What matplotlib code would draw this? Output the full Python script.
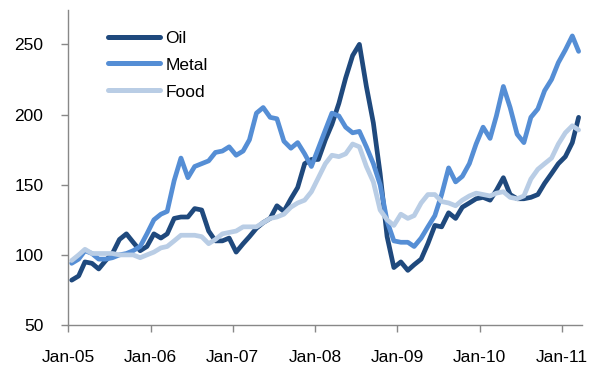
"""
Commodity price indices (Oil, Metal, Food), monthly, Jan-05 to Mar-11.
Saves out.png (599x369).
"""

import pandas as pd
import matplotlib.pyplot as plt
import matplotlib.dates as mdates

# ============================================================
#  DATA
# ============================================================

START_MONTH = "2005-01-01"

OIL = [
    82, 85, 95, 94, 90, 96, 101, 111, 115, 109, 103, 106,
    115, 112, 115, 126, 127, 127, 133, 132, 117, 110, 110, 112,
    102, 108, 113, 119, 123, 126, 135, 131, 140, 148, 165, 168,
    168, 182, 193, 208, 226, 242, 250, 220, 194, 158, 113, 91,
    95, 89, 93, 97, 108, 121, 120, 130, 126, 134, 137, 140,
    141, 139, 146, 155, 143, 140, 140, 141, 143, 151, 158, 165,
    170, 180, 198,
]

METAL = [
    94, 97, 103, 101, 97, 97, 98, 100, 101, 103, 106, 115,
    125, 129, 131, 153, 169, 155, 163, 165, 167, 173, 174, 177,
    171, 174, 182, 201, 205, 198, 197, 181, 176, 180, 172, 163,
    176, 189, 201, 199, 191, 187, 188, 177, 165, 150, 124, 110,
    109, 109, 106, 112, 120, 128, 143, 162, 152, 156, 165, 179,
    191, 183, 199, 220, 205, 186, 180, 198, 204, 217, 225, 237,
    246, 256, 245,
]

FOOD = [
    96, 100, 104, 101, 101, 101, 101, 100, 100, 100, 98, 100,
    102, 105, 106, 110, 114, 114, 114, 113, 108, 111, 115, 116,
    117, 120, 120, 120, 123, 126, 127, 129, 134, 137, 139, 145,
    155, 165, 171, 170, 172, 179, 177, 163, 152, 132, 125, 121,
    129, 126, 128, 137, 143, 143, 138, 137, 135, 139, 142, 144,
    143, 142, 144, 145, 141, 140, 142, 154, 161, 165, 169, 179,
    187, 192, 189,
]

SERIES = ["Oil", "Metal", "Food"]
COLORS = ["#1F497D", "#558ED5", "#B9CDE5"]

YTICKS = [50, 100, 150, 200, 250]

# ============================================================
#  PLOT
# ============================================================

def main():
    plt.rcParams["font.family"] = ["Liberation Sans", "DejaVu Sans"]

    # monthly points sit in the middle of each month slot
    months = pd.date_range(START_MONTH, periods=len(OIL), freq="MS") + pd.Timedelta(days=15)

    fig = plt.figure(figsize=(5.99, 3.69), dpi=100)
    ax = fig.add_axes([0.114, 0.119, 0.858, 0.854])

    for name, values, color in zip(SERIES, [OIL, METAL, FOOD], COLORS):
        ax.plot(months, values, color=color, linewidth=3.4, label=name,
                solid_capstyle="round", solid_joinstyle="round")

    ax.set_xlim(pd.Timestamp("2005-01-01"), pd.Timestamp("2011-04-01"))
    ax.set_ylim(50, 274.5)
    ax.set_yticks(YTICKS)

    ax.xaxis.set_major_locator(mdates.YearLocator(month=1, day=1))
    ax.xaxis.set_major_formatter(mdates.DateFormatter("%b-%y"))

    for side in ["top", "right"]:
        ax.spines[side].set_visible(False)
    for side in ["left", "bottom"]:
        ax.spines[side].set_color("#888888")
        ax.spines[side].set_linewidth(1.0)

    ax.tick_params(axis="both", direction="out", length=5, width=1.0,
                   color="#888888", labelsize=12.5, labelcolor="black")
    ax.tick_params(axis="x", pad=13)
    ax.tick_params(axis="y", pad=13)

    leg = ax.legend(loc="upper left", bbox_to_anchor=(0.064, 0.957),
                    frameon=False, fontsize=12.5, handlelength=3.0,
                    handletextpad=0.3, labelspacing=0.68, borderaxespad=0)
    for line in leg.get_lines():
        line.set_linewidth(3.6)
        line.set_solid_capstyle("round")

    fig.savefig("out.png", dpi=100)
    plt.close(fig)


if __name__ == "__main__":
    main()
